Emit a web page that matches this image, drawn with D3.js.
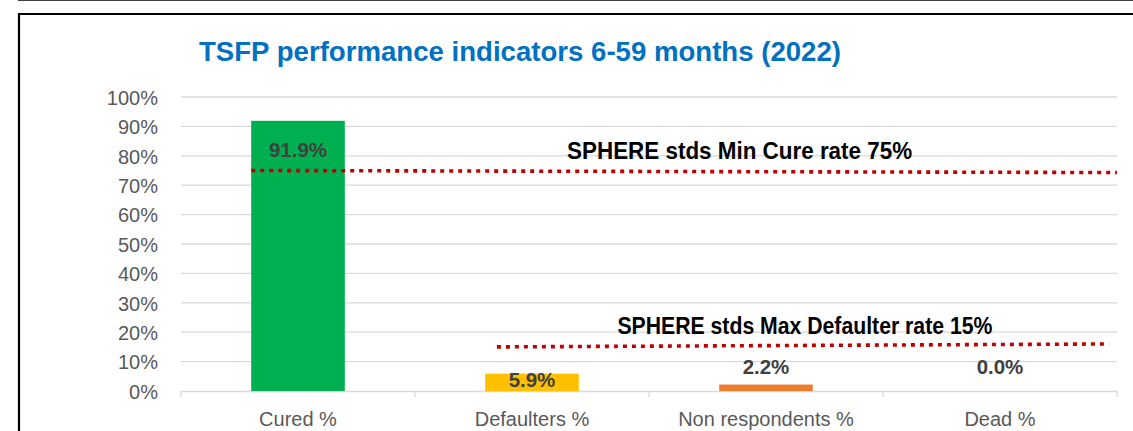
<!DOCTYPE html>
<html>
<head>
<meta charset="utf-8">
<script src="https://cdn.jsdelivr.net/npm/d3@7"></script>
<style>
  html, body { margin: 0; padding: 0; background: #fff; overflow: hidden; }
  svg { display: block; }
</style>
</head>
<body>
<svg id="chart" width="1133" height="431"></svg>
<script>
// ---- data ----
const categories = ["Cured %", "Defaulters %", "Non respondents %", "Dead %"];
const values = [91.9, 5.9, 2.2, 0.0];
const barColors = ["#00B050", "#FFC000", "#ED7D31", "#A5A5A5"];
const yTicks = [0, 10, 20, 30, 40, 50, 60, 70, 80, 90, 100];
const titleText = "TSFP performance indicators 6-59 months (2022)";
// reference lines: start/end in category units, start/end values
const refLabels = ["SPHERE stds Min Cure rate 75%", "SPHERE stds Max Defaulter rate 15%"];
const refFrom = [0.30, 1.35];
const refTo = [4.0, 3.966];
const refV0 = [75, 15];
const refV1 = [74.3, 16];
const refLabelAt = [1.65, 1.865];
const refLabelV = [78.9, 19.4];

// ---- layout ----
const svg = d3.select("#chart");
const W = 1133, H = 431;
const plot = { left: 181, right: 1117, top: 97, bottom: 391 };
const FONT = "Liberation Sans, Arial, sans-serif";

const x = d3.scaleBand().domain(categories).range([plot.left, plot.right]).paddingInner(0.6).paddingOuter(0.3);
const xc = d3.scaleLinear().domain([0, categories.length]).range([plot.left, plot.right]);
const y = d3.scaleLinear().domain([0, 100]).range([plot.bottom, plot.top]);

// frame lines
svg.append("line").attr("x1", 18).attr("x2", W).attr("y1", 0.5).attr("y2", 0.5)
  .attr("stroke", "#404040").attr("stroke-width", 1);
svg.append("path").attr("d", `M19,${H} L19,14 L${W},14`)
  .attr("fill", "none").attr("stroke", "#000").attr("stroke-width", 2.2);

// title
svg.append("text").attr("x", 199).attr("y", 61)
  .attr("font-family", FONT).attr("font-weight", "bold")
  .attr("font-size", 28.5).attr("fill", "#0070C0")
  .attr("textLength", 642).attr("lengthAdjust", "spacingAndGlyphs")
  .text(titleText);

// gridlines
svg.append("g").selectAll("line").data(yTicks.filter(d => d > 0)).join("line")
  .attr("x1", plot.left).attr("x2", plot.right)
  .attr("y1", d => y(d)).attr("y2", d => y(d))
  .attr("stroke", "#D9D9D9").attr("stroke-width", 1.3);

// y axis labels
const yAxis = d3.axisLeft(y).tickValues(yTicks).tickFormat(d => d + "%").tickSize(0).tickPadding(0);
const gy = svg.append("g").attr("transform", `translate(158,0)`).call(yAxis);
gy.select(".domain").remove();
gy.selectAll("text").attr("font-family", FONT)
  .attr("font-size", 20).attr("fill", "#595959").attr("dy", "0.36em");

// x axis
const xAxis = d3.axisBottom(x).tickSize(0).tickPadding(0);
const gx = svg.append("g").attr("transform", `translate(0,${plot.bottom})`).call(xAxis);
gx.select(".domain").remove();
gx.selectAll("text").attr("font-family", FONT)
  .attr("font-size", 20).attr("fill", "#595959").attr("y", 35).attr("dy", 0);
svg.append("line").attr("x1", plot.left).attr("x2", plot.right)
  .attr("y1", plot.bottom + 0.5).attr("y2", plot.bottom + 0.5)
  .attr("stroke", "#D9D9D9").attr("stroke-width", 1.3);
svg.append("g").selectAll("line").data(d3.range(categories.length + 1)).join("line")
  .attr("x1", d => xc(d)).attr("x2", d => xc(d))
  .attr("y1", plot.bottom).attr("y2", plot.bottom + 6)
  .attr("stroke", "#D9D9D9").attr("stroke-width", 1.3);

// bars
svg.append("g").selectAll("rect").data(values).join("rect")
  .attr("x", (d, i) => x(categories[i]))
  .attr("width", x.bandwidth())
  .attr("y", d => y(d))
  .attr("height", d => y(0) - y(d))
  .attr("fill", (d, i) => barColors[i]);

// reference lines
const refLine = d3.line().x(d => xc(d[0])).y(d => y(d[1]));
refLabels.forEach((lab, i) => {
  svg.append("path")
    .attr("d", refLine([[refFrom[i], refV0[i]], [refTo[i], refV1[i]]]))
    .attr("fill", "none").attr("stroke", "#C00000").attr("stroke-width", 3.6)
    .attr("stroke-dasharray", "4 5");
});
const refTextLen = [345, 375];
refLabels.forEach((lab, i) => {
  svg.append("text").attr("x", xc(refLabelAt[i])).attr("y", y(refLabelV[i]))
    .attr("font-family", FONT).attr("font-weight", "bold")
    .attr("font-size", 23).attr("fill", "#000")
    .attr("textLength", refTextLen[i]).attr("lengthAdjust", "spacingAndGlyphs")
    .text(lab);
});

// data labels
const labelShift = [29, 6, -18, -24];
svg.append("g").selectAll("text").data(values).join("text")
  .attr("x", (d, i) => x(categories[i]) + x.bandwidth() / 2)
  .attr("y", (d, i) => y(d) + labelShift[i])
  .attr("dy", "0.35em")
  .attr("text-anchor", "middle")
  .attr("font-family", FONT).attr("font-weight", "bold")
  .attr("font-size", 20.5).attr("fill", "#404040")
  .text(d => d.toFixed(1) + "%");
</script>
</body>
</html>
